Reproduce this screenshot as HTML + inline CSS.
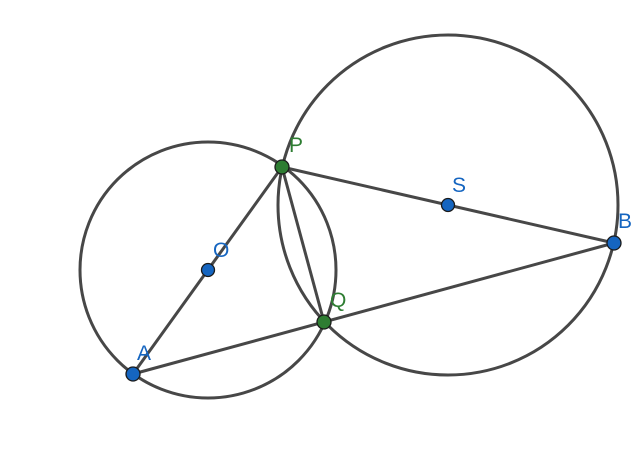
<!DOCTYPE html>
<html><head><meta charset="utf-8"><style>
html,body{margin:0;padding:0;background:#fff;}
svg{display:block;}
text{font-family:"Liberation Sans",sans-serif;font-size:21px;}
</style></head><body>
<svg width="640" height="467" viewBox="0 0 640 467" xmlns="http://www.w3.org/2000/svg">
<g fill="none" stroke="#474747" stroke-width="3">
<circle cx="208" cy="270" r="128"/>
<circle cx="448" cy="205" r="170"/>
<line x1="282" y1="167" x2="614" y2="243"/>
<line x1="133" y1="374" x2="614" y2="243"/>
<line x1="133" y1="374" x2="282" y2="167"/>
<line x1="282" y1="167" x2="324" y2="322"/>
</g>
<g stroke="#1a1a1a" stroke-width="1.3">
<circle cx="208" cy="270" r="6.5" fill="#1565c0"/>
<circle cx="448" cy="205" r="6.5" fill="#1565c0"/>
<circle cx="133" cy="374" r="7" fill="#1565c0"/>
<circle cx="614" cy="243" r="7" fill="#1565c0"/>
<circle cx="282" cy="167" r="7" fill="#2e7d32"/>
<circle cx="324" cy="322" r="7" fill="#2e7d32"/>
</g>
<g fill="#1565c0">
<text x="213" y="257">O</text>
<text x="452" y="192">S</text>
<text x="618" y="228">B</text>
<text x="137" y="360">A</text>
</g>
<g fill="#2e7d32">
<text x="289" y="152">P</text>
<text x="330" y="307">Q</text>
</g>
</svg>
</body></html>
